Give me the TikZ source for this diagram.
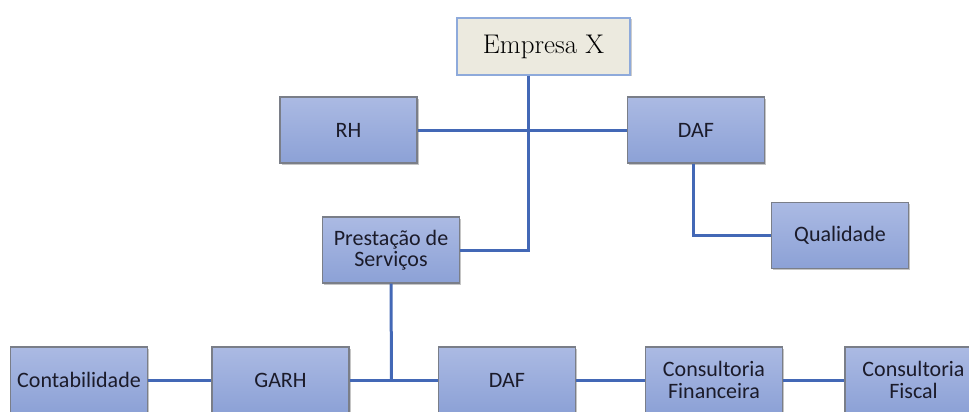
\documentclass[tikz,border=0pt]{standalone}
\usepackage{fontspec}
\newfontfamily\boxfont{Carlito}
\usetikzlibrary{shadows}
\definecolor{boxtop}{HTML}{ABBAE3}
\definecolor{boxbot}{HTML}{8CA1D6}
\definecolor{boxedge}{HTML}{7A7E88}
\definecolor{linkblue}{HTML}{4368B6}
\definecolor{headfill}{HTML}{ECEADF}
\definecolor{headedge}{HTML}{8EAADB}
\definecolor{txt}{HTML}{1B1B2A}
\begin{document}
\begin{tikzpicture}[x=1pt,y=-1pt,
  unit/.style={draw=boxedge, line width=1.4pt, top color=boxtop, bottom color=boxbot,
    minimum width=137pt, minimum height=66pt, inner sep=0pt, align=center,
    text=txt, font=\boxfont\fontsize{22}{21.5}\selectfont,
    drop shadow={shadow xshift=1.5pt, shadow yshift=-1.5pt, fill=black!45, opacity=.5}},
  head/.style={draw=headedge, line width=1.4pt, fill=headfill,
    minimum width=173pt, minimum height=57pt, inner sep=0pt,
    text=black, font=\fontsize{27}{30}\selectfont,
    drop shadow={shadow xshift=1.5pt, shadow yshift=-1.5pt, fill=black!40, opacity=.5}},
  link/.style={draw=linkblue, line width=3pt}]
\useasboundingbox (0,0) rectangle (969,412);
\clip (0,0) rectangle (969,412);

\coordinate (spine) at (528.5,132);
\coordinate (bus) at (391.5,381);

% top level
\node[head] (emp) at (543.5,46.5) {Empresa X};
\node[unit] (rh)  at (348.5,130) {RH};
\node[unit] (daf1) at (696,130) {DAF};
\node[unit] (prest) at (391,250) {Prestação de\\Serviços};
\node[unit] (qual) at (840,235.5) {Qualidade};

% bottom row
\node[unit] (cont) at (79,380) {Contabilidade};
\node[unit] (garh) at (280.5,380) {GARH};
\node[unit] (daf2) at (507,380) {DAF};
\node[unit] (fin)  at (714,380) {Consultoria\\Financeira};
\node[unit] (fisc) at (913.5,380) {Consultoria\\Fiscal};

% connectors
\draw[link] (emp.south -| spine) |- (prest.east);
\draw[link] (rh.east) -- (daf1.west);
\draw[link] ([xshift=-3pt]daf1.south) |- (qual.west);
\draw[link] (prest.south) -- (bus);
\draw[link] (garh.east) -- (daf2.west);
\draw[link] (cont.east) -- (garh.west);
\draw[link] (daf2.east) -- (fin.west);
\draw[link] (fin.east) -- (fisc.west);
\end{tikzpicture}
\end{document}
